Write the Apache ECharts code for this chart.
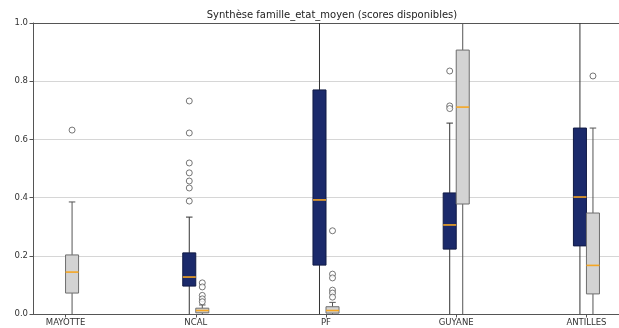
<!DOCTYPE html>
<html>
<head>
<meta charset="utf-8">
<script src="https://cdn.jsdelivr.net/npm/echarts@6/dist/echarts.min.js"></script>
<style>
  html, body { margin: 0; padding: 0; background: #fff; }
  #chart { width: 619px; height: 328px; }
</style>
</head>
<body>
<div id="chart"></div>
<script>
// Territories on the x axis (positions 1..5)
const categories = ['MAYOTTE', 'NCAL', 'PF', 'GUYANE', 'ANTILLES'];

// Box statistics per territory: [lower whisker, Q1, median, Q3, upper whisker]
const navyStats = [
  null,
  [0, 0.096, 0.127, 0.210, 0.333],
  [0, 0.168, 0.392, 0.770, 1.30],
  [0, 0.223, 0.306, 0.416, 0.656],
  [0, 0.234, 0.402, 0.639, 1.30]
];
const greyStats = [
  [0, 0.072, 0.144, 0.203, 0.385],
  [0, 0.004, 0.012, 0.020, 0.031],
  [0, 0.003, 0.012, 0.025, 0.040],
  [0, 0.378, 0.711, 0.907, 1.30],
  [0, 0.069, 0.167, 0.347, 0.639]
];

// Outliers per territory
const navyOutliers = [
  [],
  [0.732, 0.622, 0.519, 0.485, 0.457, 0.433, 0.388],
  [],
  [0.835, 0.715, 0.706],
  []
];
const greyOutliers = [
  [0.632],
  [0.107, 0.093, 0.064, 0.052, 0.042],
  [0.286, 0.137, 0.124, 0.082, 0.072, 0.058],
  [],
  [0.818]
];

const yTicks = [0, 0.2, 0.4, 0.6, 0.8, 1.0];

const BOX_W = 0.1;
const NAVY_OFF = -0.05;
const GREY_OFF = 0.05;

function boxData(stats) {
  const out = [];
  stats.forEach((s, i) => { if (s) out.push([i + 1].concat(s)); });
  return out;
}
function outlierData(list, off) {
  const out = [];
  list.forEach((vals, i) => vals.forEach(v => out.push([i + 1 + off, v])));
  return out;
}

function makeRender(offset, fill, edge, whisker) {
  return function (params, api) {
    const cs = params.coordSys;
    const top = cs.y;
    const x = api.value(0) + offset;
    const pLo = api.coord([x, api.value(1)]);
    const pQ1 = api.coord([x, api.value(2)]);
    const pMed = api.coord([x, api.value(3)]);
    const pQ3 = api.coord([x, api.value(4)]);
    const pHi = api.coord([x, api.value(5)]);
    const half = api.size([BOX_W, 0])[0] / 2;
    const cap = half / 2;
    const cx = pMed[0];
    const hiY = Math.max(pHi[1], top);
    const children = [
      { type: 'line', shape: { x1: cx, y1: pQ1[1], x2: cx, y2: pLo[1] },
        style: { stroke: whisker, lineWidth: 1 } },
      { type: 'line', shape: { x1: cx, y1: pQ3[1], x2: cx, y2: hiY },
        style: { stroke: whisker, lineWidth: 1 } },
      { type: 'rect', shape: { x: cx - half, y: pQ3[1], width: half * 2, height: pQ1[1] - pQ3[1] },
        style: { fill: fill, stroke: edge, lineWidth: 1 } },
      { type: 'line', shape: { x1: cx - half, y1: pMed[1], x2: cx + half, y2: pMed[1] },
        style: { stroke: '#f5a623', lineWidth: 1.6 } }
    ];
    if (pHi[1] >= top) {
      children.push({ type: 'line', shape: { x1: cx - cap, y1: pHi[1], x2: cx + cap, y2: pHi[1] },
        style: { stroke: whisker, lineWidth: 1 } });
    }
    return { type: 'group', children: children };
  };
}

const axisFont = { fontFamily: 'DejaVu Sans', fontSize: 8.5, color: '#333' };

const chart = echarts.init(document.getElementById('chart'), null, { renderer: 'canvas' });
chart.setOption({
  animation: false,
  backgroundColor: '#ffffff',
  title: {
    text: 'Synthèse famille_etat_moyen (scores disponibles)',
    left: 327,
    top: 5,
    textAlign: 'center',
    textStyle: { fontFamily: 'DejaVu Sans', fontSize: 10, fontWeight: 'normal', color: '#222' }
  },
  grid: { left: 33, top: 23, width: 588, height: 291, show: false },
  xAxis: [
    {
      type: 'value',
      min: 0.75, max: 5.25,
      splitLine: { show: false },
      axisLine: { lineStyle: { color: '#555', width: 1 } },
      axisTick: { show: true, customValues: [1, 2, 3, 4, 5], length: 3.5, lineStyle: { color: '#555' } },
      axisLabel: Object.assign({
        customValues: [1, 2, 3, 4, 5],
        formatter: v => categories[Math.round(v) - 1],
        margin: 4
      }, axisFont)
    },
    {
      // top frame line
      type: 'value',
      position: 'top',
      min: 0.75, max: 5.25,
      splitLine: { show: false },
      axisLine: { show: true, lineStyle: { color: '#555', width: 1 } },
      axisTick: { show: false },
      axisLabel: { show: false }
    }
  ],
  yAxis: {
    type: 'value',
    min: 0, max: 1, interval: 0.2,
    axisLine: { show: true, lineStyle: { color: '#555', width: 1 } },
    axisTick: { show: true, length: 3.5, lineStyle: { color: '#555' } },
    splitLine: { show: true, lineStyle: { color: '#d6d6d6', width: 1 } },
    axisLabel: Object.assign({
      customValues: yTicks,
      formatter: v => v.toFixed(1),
      margin: 5
    }, axisFont)
  },
  series: [
    {
      type: 'custom',
      name: 'navy',
      data: boxData(navyStats),
      encode: { x: 0, y: [1, 2, 3, 4, 5] },
      renderItem: makeRender(NAVY_OFF, '#1b2a6b', '#111a44', '#333'),
      z: 3
    },
    {
      type: 'custom',
      name: 'grey',
      data: boxData(greyStats),
      encode: { x: 0, y: [1, 2, 3, 4, 5] },
      renderItem: makeRender(GREY_OFF, '#d3d3d3', '#6e6e6e', '#555'),
      z: 3
    },
    {
      type: 'scatter',
      data: outlierData(navyOutliers, NAVY_OFF),
      symbol: 'circle', symbolSize: 6,
      itemStyle: { color: '#fff', borderColor: '#555', borderWidth: 1 },
      z: 4
    },
    {
      type: 'scatter',
      data: outlierData(greyOutliers, GREY_OFF),
      symbol: 'circle', symbolSize: 6,
      itemStyle: { color: '#fff', borderColor: '#555', borderWidth: 1 },
      z: 4
    }
  ]
});
</script>
</body>
</html>
